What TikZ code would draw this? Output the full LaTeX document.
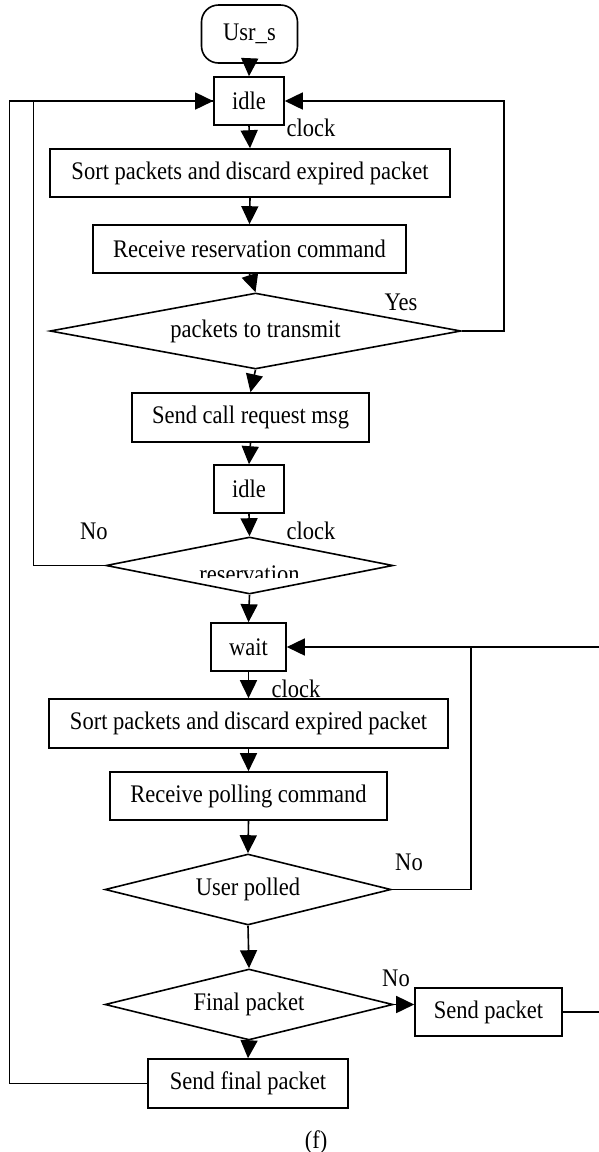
\documentclass[tikz,border=0pt]{standalone}
\usepackage{fontspec}
\setmainfont{Liberation Serif}[FakeStretch=0.89]
\usetikzlibrary{shapes.geometric,arrows.meta}
\begin{document}
\begin{tikzpicture}[x=1pt,y=-1pt,
  every node/.style={font=\fontsize{25.3}{30}\selectfont},
  box/.style={draw, line width=1.6pt, rectangle, inner sep=0pt},
  dia/.style={draw, line width=1.6pt, diamond, inner sep=0pt},
  arr/.style={line width=1.6pt, -{Triangle[length=18pt,width=17pt]}},
  ln/.style={line width=1.6pt}]
\useasboundingbox (0,0) rectangle (598,1152);
% nodes
\node[box, rounded corners=17pt, minimum width=96pt, minimum height=58pt] (usr) at (249.5,34) {Usr\_s};
\node[box, minimum width=70pt, minimum height=48pt] (idle1) at (249,101) {idle};
\node[box, minimum width=400pt, minimum height=48pt] (sort1) at (250,173) {Sort packets and discard expired packet};
\node[box, minimum width=313pt, minimum height=48pt] (recres) at (249.5,249) {Receive reservation command};
\node[dia, aspect=5.3, minimum width=411pt, minimum height=76pt] (d1) at (255.5,331) {packets to transmit};
\node[box, minimum width=237pt, minimum height=49pt] (call) at (250.5,417.5) {Send call request msg};
\node[box, minimum width=70pt, minimum height=48pt] (idle2) at (249,489) {idle};
\node[dia, aspect=5, minimum width=287pt, minimum height=57pt] (resv) at (249.5,565.5) {};
\begin{scope}
  \clip (100,540) rectangle (400,577);
  \node[anchor=base] (resvtext) at (249.5,582) {reservation};
\end{scope}
\node[box, minimum width=75pt, minimum height=48pt] (wait) at (248.5,647) {wait};
\node[box, minimum width=399pt, minimum height=49pt] (sort2) at (248.5,723.5) {Sort packets and discard expired packet};
\node[box, minimum width=277pt, minimum height=48pt] (recpol) at (248.5,796) {Receive polling command};
\node[dia, aspect=4, minimum width=286pt, minimum height=71pt] (up) at (248,889.5) {User polled};
\node[dia, aspect=4, minimum width=288pt, minimum height=71pt] (fp) at (249,1004.5) {Final packet};
\node[box, minimum width=147pt, minimum height=48pt] (sp) at (488.5,1012) {Send packet};
\node[box, minimum width=200pt, minimum height=49pt] (sfp) at (248,1083.5) {Send final packet};
% labels
\node (clk1) at (311,128) {clock};
\node (yes1) at (401,302) {Yes};
\node (no1) at (94,531) {No};
\node (clk2) at (311,531) {clock};
\node (clk3) at (296,689) {clock};
\node (no2) at (409,862) {No};
\node (no3) at (396,978) {No};
\node (cap) at (316,1142) {(f)};
% helper coordinates
\coordinate (rx) at (504,0);
\coordinate (ix) at (33.5,0);
\coordinate (ox) at (9.5,0);
\coordinate (px) at (471,0);
\coordinate (ex) at (601,0);
% connectors
\draw[arr] (usr.south) -- (idle1.north);
\draw[arr] (idle1.south) -- (sort1.north);
\draw[arr] (sort1.south) -- (recres.north);
\draw[arr] (recres.south) -- (d1.north);
\draw[arr] (d1.south) -- (call.north);
\draw[arr] (call.south) -- (idle2.north);
\draw[arr] (idle2.south) -- (resv.north);
\draw[arr] (resv.south) -- (wait.north);
\draw[arr] (wait.south) -- (sort2.north);
\draw[arr] (sort2.south) -- (recpol.north);
\draw[arr] (recpol.south) -- (up.north);
\draw[arr] (up.south) -- (fp.north);
\draw[arr] (fp.south) -- (sfp.north);
\draw[arr] (fp.east) -- (fp.east -| sp.west);
\draw[arr] (d1.east) -- (d1.east -| rx) |- (idle1.east);
\draw[ln] (resv.west) -- (resv.west -| ix) |- (idle1.west);
\draw[arr] (sfp.west) -- (sfp.west -| ox) |- (idle1.west);
\draw[arr] (up.east) -- (up.east -| px) |- (wait.east);
\draw[ln] (sp.east) -- (sp.east -| ex) |- (wait.east -| px);
\end{tikzpicture}
\end{document}
